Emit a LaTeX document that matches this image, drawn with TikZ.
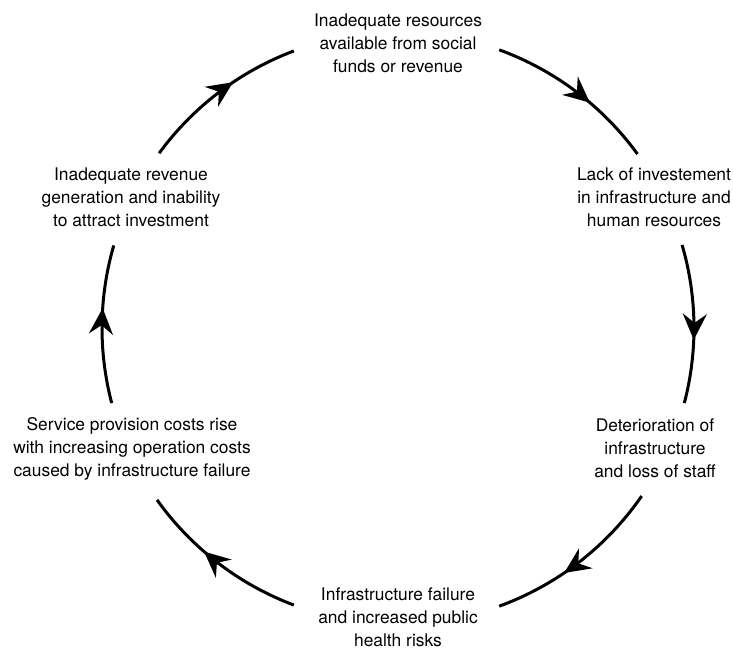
\documentclass[tikz,border=0pt]{standalone}
\usepackage{fontspec}
\setmainfont{TeX Gyre Heros}
\usetikzlibrary{arrows.meta,decorations.markings}
\begin{document}
\begin{tikzpicture}[x=1pt,y=1pt,
  lbl/.style={align=center, font=\fontsize{17.4}{23}\selectfont, inner sep=0pt},
  flow/.style={line width=3pt, postaction={decorate},
    decoration={markings, mark=at position 0.6 with {\arrow{Stealth[length=26pt,width=24pt,inset=9pt]}}}}]
\fill[white] (0,0) rectangle (733,-651);
\useasboundingbox (0,0) rectangle (733,-651);
\coordinate (c) at (398,-328);
\node[lbl] (top) at (398,-43) {Inadequate resources\\available from social\\funds or revenue};
\node[lbl] (rt) at (654,-197) {Lack of investement\\in infrastructure and\\human resources};
\node[lbl] (rb) at (655,-448) {Deterioration of\\infrastructure\\and loss of staff};
\node[lbl] (bot) at (398,-617) {Infrastructure failure\\and increased public\\health risks};
\node[lbl] (lb) at (132,-449) {Service provision costs rise\\with increasing operation costs\\caused by infrastructure failure};
\node[lbl] (lt) at (131,-197) {Inadequate revenue\\generation and inability\\to attract investment};
\draw[flow] (c) ++(70:296) arc[start angle=70, end angle=36, radius=296];
\draw[flow] (c) ++(16.3:296) arc[start angle=16.3, end angle=-14.7, radius=296];
\draw[flow] (c) ++(-34.6:296) arc[start angle=-34.6, end angle=-70, radius=296];
\draw[flow] (c) ++(-110.6:296) arc[start angle=-110.6, end angle=-144.5, radius=296];
\draw[flow] (c) ++(-165.3:296) arc[start angle=-165.3, end angle=-196.2, radius=296];
\draw[flow] (c) ++(143.8:296) arc[start angle=143.8, end angle=110.6, radius=296];
\end{tikzpicture}
\end{document}
